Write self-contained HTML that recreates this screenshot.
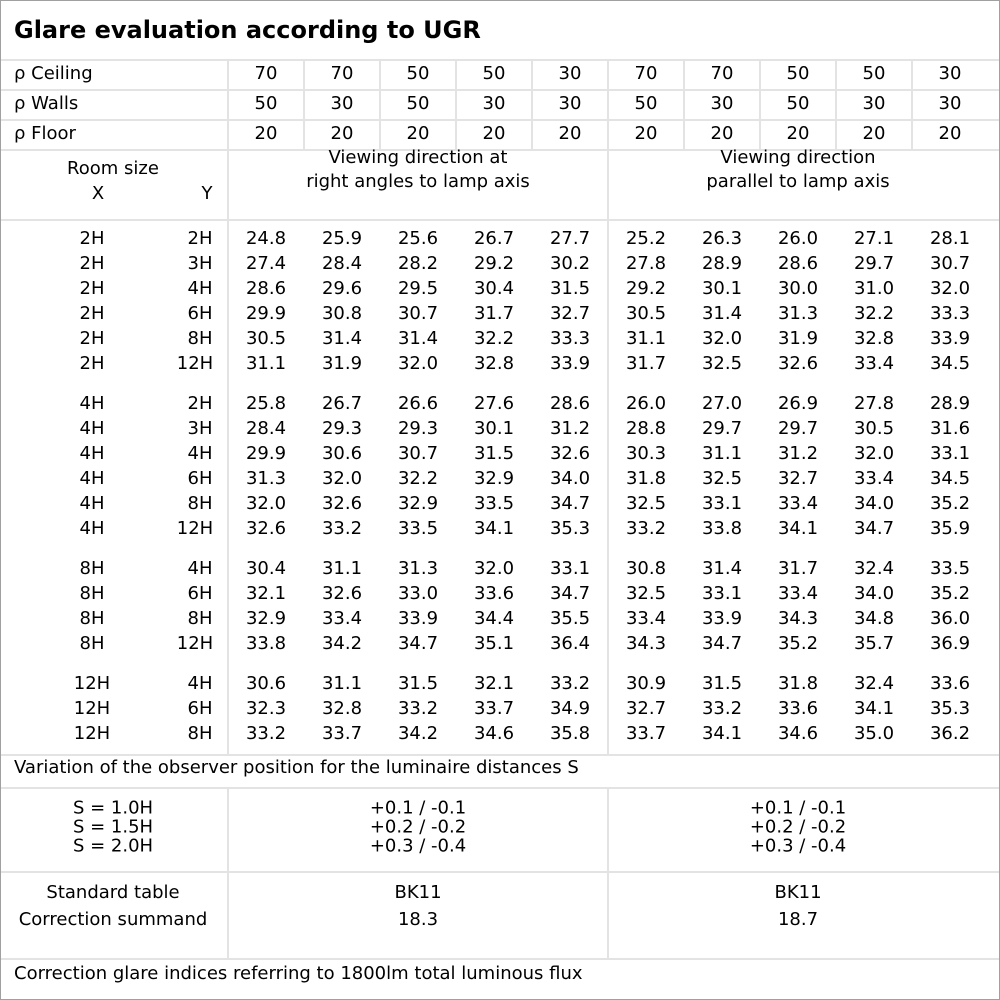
<!DOCTYPE html>
<html><head><meta charset="utf-8"><style>
body{margin:0;background:#fff}
#c{position:relative;width:1000px;height:1000px;overflow:hidden;font-family:"DejaVu Sans","Liberation Sans",sans-serif;font-size:18px;color:#000}
.h{position:absolute;height:2px;background:#e3e3e3}
.v{position:absolute;width:2px;background:#e3e3e3}
.t{position:absolute;transform:translate(-50%,-50%);white-space:nowrap;line-height:20px;text-align:center}
.l{position:absolute;transform:translateY(-50%);white-space:nowrap;line-height:20px}
.row{position:absolute;left:0;width:1000px;height:20px;transform:translateY(-50%)}
.row span{position:absolute;top:0;transform:translateX(-50%);line-height:20px}
</style></head><body><div id="c">
<div style="position:absolute;left:0;top:0;width:998px;height:998px;border:1px solid #a0a0a0"></div>
<div class="l" style="left:14px;top:30px;font-weight:bold;font-size:24px">Glare evaluation according to UGR</div>
<div class="h" style="left:1px;top:59px;width:998px"></div>
<div class="h" style="left:1px;top:89px;width:998px"></div>
<div class="h" style="left:1px;top:119px;width:998px"></div>
<div class="h" style="left:1px;top:149px;width:998px"></div>
<div class="h" style="left:1px;top:219px;width:998px"></div>
<div class="h" style="left:1px;top:754px;width:998px"></div>
<div class="h" style="left:1px;top:787px;width:998px"></div>
<div class="h" style="left:1px;top:871px;width:998px"></div>
<div class="h" style="left:1px;top:958px;width:998px"></div>
<div class="v" style="left:227px;top:60px;height:695px"></div>
<div class="v" style="left:227px;top:788px;height:171px"></div>
<div class="v" style="left:607px;top:60px;height:695px"></div>
<div class="v" style="left:607px;top:788px;height:171px"></div>
<div class="v" style="left:303px;top:60px;height:90px"></div>
<div class="v" style="left:379px;top:60px;height:90px"></div>
<div class="v" style="left:455px;top:60px;height:90px"></div>
<div class="v" style="left:531px;top:60px;height:90px"></div>
<div class="v" style="left:683px;top:60px;height:90px"></div>
<div class="v" style="left:759px;top:60px;height:90px"></div>
<div class="v" style="left:835px;top:60px;height:90px"></div>
<div class="v" style="left:911px;top:60px;height:90px"></div>

<div class="l" style="left:14px;top:74px">ρ Ceiling</div>
<div class="l" style="left:14px;top:104px">ρ Walls</div>
<div class="l" style="left:14px;top:134px">ρ Floor</div>
<div class="row" style="top:74px"><span style="left:266px">70</span><span style="left:342px">70</span><span style="left:418px">50</span><span style="left:494px">50</span><span style="left:570px">30</span><span style="left:646px">70</span><span style="left:722px">70</span><span style="left:798px">50</span><span style="left:874px">50</span><span style="left:950px">30</span></div>
<div class="row" style="top:104px"><span style="left:266px">50</span><span style="left:342px">30</span><span style="left:418px">50</span><span style="left:494px">30</span><span style="left:570px">30</span><span style="left:646px">50</span><span style="left:722px">30</span><span style="left:798px">50</span><span style="left:874px">30</span><span style="left:950px">30</span></div>
<div class="row" style="top:134px"><span style="left:266px">20</span><span style="left:342px">20</span><span style="left:418px">20</span><span style="left:494px">20</span><span style="left:570px">20</span><span style="left:646px">20</span><span style="left:722px">20</span><span style="left:798px">20</span><span style="left:874px">20</span><span style="left:950px">20</span></div>

<div class="t" style="left:113px;top:169px">Room size</div>
<div class="t" style="left:98px;top:194px">X</div>
<div class="t" style="left:207px;top:194px">Y</div>
<div class="t" style="left:418px;top:170px;line-height:24px">Viewing direction at<br>right angles to lamp axis</div>
<div class="t" style="left:798px;top:170px;line-height:24px">Viewing direction<br>parallel to lamp axis</div>

<div class="row" style="top:239px"><span style="left:92px">2H</span><span style="left:200px">2H</span><span style="left:266px">24.8</span><span style="left:342px">25.9</span><span style="left:418px">25.6</span><span style="left:494px">26.7</span><span style="left:570px">27.7</span><span style="left:646px">25.2</span><span style="left:722px">26.3</span><span style="left:798px">26.0</span><span style="left:874px">27.1</span><span style="left:950px">28.1</span></div>
<div class="row" style="top:264px"><span style="left:92px">2H</span><span style="left:200px">3H</span><span style="left:266px">27.4</span><span style="left:342px">28.4</span><span style="left:418px">28.2</span><span style="left:494px">29.2</span><span style="left:570px">30.2</span><span style="left:646px">27.8</span><span style="left:722px">28.9</span><span style="left:798px">28.6</span><span style="left:874px">29.7</span><span style="left:950px">30.7</span></div>
<div class="row" style="top:289px"><span style="left:92px">2H</span><span style="left:200px">4H</span><span style="left:266px">28.6</span><span style="left:342px">29.6</span><span style="left:418px">29.5</span><span style="left:494px">30.4</span><span style="left:570px">31.5</span><span style="left:646px">29.2</span><span style="left:722px">30.1</span><span style="left:798px">30.0</span><span style="left:874px">31.0</span><span style="left:950px">32.0</span></div>
<div class="row" style="top:314px"><span style="left:92px">2H</span><span style="left:200px">6H</span><span style="left:266px">29.9</span><span style="left:342px">30.8</span><span style="left:418px">30.7</span><span style="left:494px">31.7</span><span style="left:570px">32.7</span><span style="left:646px">30.5</span><span style="left:722px">31.4</span><span style="left:798px">31.3</span><span style="left:874px">32.2</span><span style="left:950px">33.3</span></div>
<div class="row" style="top:339px"><span style="left:92px">2H</span><span style="left:200px">8H</span><span style="left:266px">30.5</span><span style="left:342px">31.4</span><span style="left:418px">31.4</span><span style="left:494px">32.2</span><span style="left:570px">33.3</span><span style="left:646px">31.1</span><span style="left:722px">32.0</span><span style="left:798px">31.9</span><span style="left:874px">32.8</span><span style="left:950px">33.9</span></div>
<div class="row" style="top:364px"><span style="left:92px">2H</span><span style="left:195px">12H</span><span style="left:266px">31.1</span><span style="left:342px">31.9</span><span style="left:418px">32.0</span><span style="left:494px">32.8</span><span style="left:570px">33.9</span><span style="left:646px">31.7</span><span style="left:722px">32.5</span><span style="left:798px">32.6</span><span style="left:874px">33.4</span><span style="left:950px">34.5</span></div>

<div class="row" style="top:404px"><span style="left:92px">4H</span><span style="left:200px">2H</span><span style="left:266px">25.8</span><span style="left:342px">26.7</span><span style="left:418px">26.6</span><span style="left:494px">27.6</span><span style="left:570px">28.6</span><span style="left:646px">26.0</span><span style="left:722px">27.0</span><span style="left:798px">26.9</span><span style="left:874px">27.8</span><span style="left:950px">28.9</span></div>
<div class="row" style="top:429px"><span style="left:92px">4H</span><span style="left:200px">3H</span><span style="left:266px">28.4</span><span style="left:342px">29.3</span><span style="left:418px">29.3</span><span style="left:494px">30.1</span><span style="left:570px">31.2</span><span style="left:646px">28.8</span><span style="left:722px">29.7</span><span style="left:798px">29.7</span><span style="left:874px">30.5</span><span style="left:950px">31.6</span></div>
<div class="row" style="top:454px"><span style="left:92px">4H</span><span style="left:200px">4H</span><span style="left:266px">29.9</span><span style="left:342px">30.6</span><span style="left:418px">30.7</span><span style="left:494px">31.5</span><span style="left:570px">32.6</span><span style="left:646px">30.3</span><span style="left:722px">31.1</span><span style="left:798px">31.2</span><span style="left:874px">32.0</span><span style="left:950px">33.1</span></div>
<div class="row" style="top:479px"><span style="left:92px">4H</span><span style="left:200px">6H</span><span style="left:266px">31.3</span><span style="left:342px">32.0</span><span style="left:418px">32.2</span><span style="left:494px">32.9</span><span style="left:570px">34.0</span><span style="left:646px">31.8</span><span style="left:722px">32.5</span><span style="left:798px">32.7</span><span style="left:874px">33.4</span><span style="left:950px">34.5</span></div>
<div class="row" style="top:504px"><span style="left:92px">4H</span><span style="left:200px">8H</span><span style="left:266px">32.0</span><span style="left:342px">32.6</span><span style="left:418px">32.9</span><span style="left:494px">33.5</span><span style="left:570px">34.7</span><span style="left:646px">32.5</span><span style="left:722px">33.1</span><span style="left:798px">33.4</span><span style="left:874px">34.0</span><span style="left:950px">35.2</span></div>
<div class="row" style="top:529px"><span style="left:92px">4H</span><span style="left:195px">12H</span><span style="left:266px">32.6</span><span style="left:342px">33.2</span><span style="left:418px">33.5</span><span style="left:494px">34.1</span><span style="left:570px">35.3</span><span style="left:646px">33.2</span><span style="left:722px">33.8</span><span style="left:798px">34.1</span><span style="left:874px">34.7</span><span style="left:950px">35.9</span></div>

<div class="row" style="top:569px"><span style="left:92px">8H</span><span style="left:200px">4H</span><span style="left:266px">30.4</span><span style="left:342px">31.1</span><span style="left:418px">31.3</span><span style="left:494px">32.0</span><span style="left:570px">33.1</span><span style="left:646px">30.8</span><span style="left:722px">31.4</span><span style="left:798px">31.7</span><span style="left:874px">32.4</span><span style="left:950px">33.5</span></div>
<div class="row" style="top:594px"><span style="left:92px">8H</span><span style="left:200px">6H</span><span style="left:266px">32.1</span><span style="left:342px">32.6</span><span style="left:418px">33.0</span><span style="left:494px">33.6</span><span style="left:570px">34.7</span><span style="left:646px">32.5</span><span style="left:722px">33.1</span><span style="left:798px">33.4</span><span style="left:874px">34.0</span><span style="left:950px">35.2</span></div>
<div class="row" style="top:619px"><span style="left:92px">8H</span><span style="left:200px">8H</span><span style="left:266px">32.9</span><span style="left:342px">33.4</span><span style="left:418px">33.9</span><span style="left:494px">34.4</span><span style="left:570px">35.5</span><span style="left:646px">33.4</span><span style="left:722px">33.9</span><span style="left:798px">34.3</span><span style="left:874px">34.8</span><span style="left:950px">36.0</span></div>
<div class="row" style="top:644px"><span style="left:92px">8H</span><span style="left:195px">12H</span><span style="left:266px">33.8</span><span style="left:342px">34.2</span><span style="left:418px">34.7</span><span style="left:494px">35.1</span><span style="left:570px">36.4</span><span style="left:646px">34.3</span><span style="left:722px">34.7</span><span style="left:798px">35.2</span><span style="left:874px">35.7</span><span style="left:950px">36.9</span></div>

<div class="row" style="top:684px"><span style="left:92px">12H</span><span style="left:200px">4H</span><span style="left:266px">30.6</span><span style="left:342px">31.1</span><span style="left:418px">31.5</span><span style="left:494px">32.1</span><span style="left:570px">33.2</span><span style="left:646px">30.9</span><span style="left:722px">31.5</span><span style="left:798px">31.8</span><span style="left:874px">32.4</span><span style="left:950px">33.6</span></div>
<div class="row" style="top:709px"><span style="left:92px">12H</span><span style="left:200px">6H</span><span style="left:266px">32.3</span><span style="left:342px">32.8</span><span style="left:418px">33.2</span><span style="left:494px">33.7</span><span style="left:570px">34.9</span><span style="left:646px">32.7</span><span style="left:722px">33.2</span><span style="left:798px">33.6</span><span style="left:874px">34.1</span><span style="left:950px">35.3</span></div>
<div class="row" style="top:734px"><span style="left:92px">12H</span><span style="left:200px">8H</span><span style="left:266px">33.2</span><span style="left:342px">33.7</span><span style="left:418px">34.2</span><span style="left:494px">34.6</span><span style="left:570px">35.8</span><span style="left:646px">33.7</span><span style="left:722px">34.1</span><span style="left:798px">34.6</span><span style="left:874px">35.0</span><span style="left:950px">36.2</span></div>

<div class="l" style="left:14px;top:768px">Variation of the observer position for the luminaire distances S</div>
<div class="t" style="left:113px;top:827px;line-height:19px">S = 1.0H<br>S = 1.5H<br>S = 2.0H</div>
<div class="t" style="left:418px;top:827px;line-height:19px">+0.1 / -0.1<br>+0.2 / -0.2<br>+0.3 / -0.4</div>
<div class="t" style="left:798px;top:827px;line-height:19px">+0.1 / -0.1<br>+0.2 / -0.2<br>+0.3 / -0.4</div>
<div class="t" style="left:113px;top:893px">Standard table</div>
<div class="t" style="left:113px;top:920px">Correction summand</div>
<div class="t" style="left:418px;top:893px">BK11</div>
<div class="t" style="left:418px;top:920px">18.3</div>
<div class="t" style="left:798px;top:893px">BK11</div>
<div class="t" style="left:798px;top:920px">18.7</div>
<div class="l" style="left:14px;top:974px">Correction glare indices referring to 1800lm total luminous flux</div>
</div></body></html>
